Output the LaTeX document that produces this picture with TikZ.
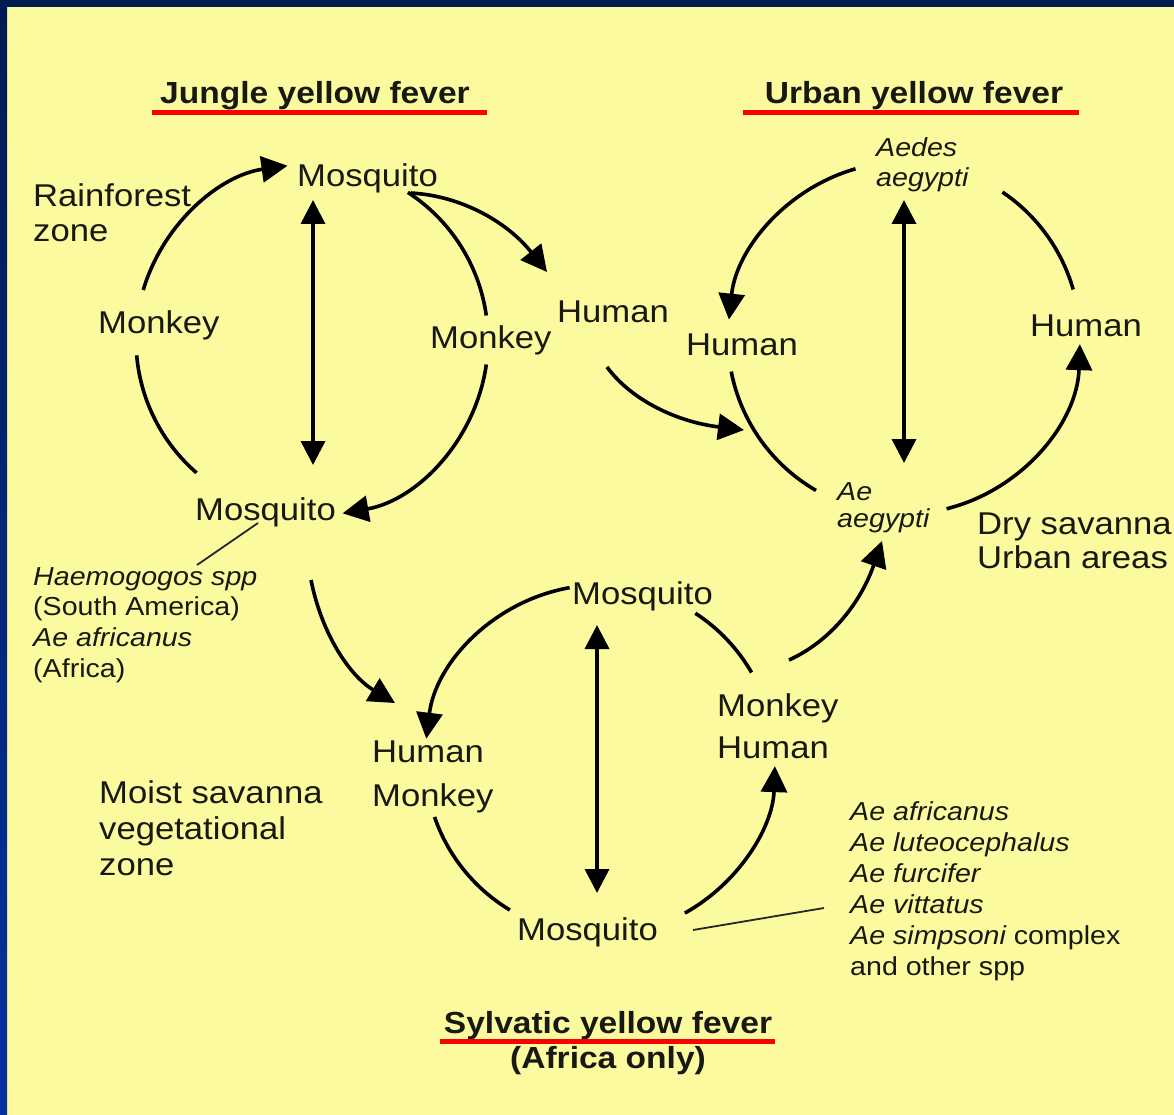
\documentclass[tikz,border=0pt]{standalone}
\usepackage{fontspec}
\setmainfont{Liberation Sans}[FakeStretch=1.1]
\usetikzlibrary{arrows.meta}
\definecolor{bgyellow}{RGB}{252,250,158}
\definecolor{navy}{RGB}{0,27,82}
\definecolor{borderblue}{RGB}{6,50,160}
\definecolor{ink}{RGB}{25,25,20}
\definecolor{redul}{RGB}{250,0,0}
\begin{document}
\begin{tikzpicture}[x=1pt,y=-1pt,
  lbl/.style={inner sep=0pt, anchor=base west, text=ink, font=\fontsize{31.5}{36}\selectfont},
  sml/.style={inner sep=0pt, anchor=base west, text=ink, font=\fontsize{26}{30}\selectfont},
  ttl/.style={inner sep=0pt, anchor=base, text=ink, font=\fontsize{30.5}{36}\selectfont\bfseries},
  cyc/.style={line width=3.6pt, draw=black},
  arr/.style={cyc, -{Triangle[length=26pt,width=26pt]}},
  dbl/.style={cyc, {Triangle[length=24pt,width=24pt]}-{Triangle[length=24pt,width=24pt]}},
  lead/.style={line width=1.8pt, draw=black!85},
  uline/.style={line width=5pt, draw=redul}
]
% background and frame
\fill[bgyellow] (0,0) rectangle (1174,1115);
\useasboundingbox (0,0) rectangle (1174,1115);
\fill[navy] (0,0) rectangle (1174,7);
\shade[top color=navy, bottom color=borderblue] (0,0) rectangle (7,1115);

% titles
\node[ttl] (tJ) at (315,104) {Jungle yellow fever};
\node[ttl] (tU) at (914,104) {Urban yellow fever};
\node[ttl] (tS) at (608,1033) {Sylvatic yellow fever};
\node[ttl] (tA) at (608,1068) {(Africa only)};
\draw[uline] (152,113) -- (487,113);
\draw[uline] (743,113) -- (1079,113);
\draw[uline] (440,1041) -- (775,1041);

% jungle cycle labels
\node[lbl] (jM1) at (297,187) {Mosquito};
\node[lbl] (rf1) at (33,207) {Rainforest};
\node[lbl] (rf2) at (33,242) {zone};
\node[lbl] (jK1) at (98,333) {Monkey};
\node[lbl] (jK2) at (430,348) {Monkey};
\node[lbl] (jM2) at (195,520) {Mosquito};
\node[sml] (hg1) at (33,585) {\itshape Haemogogos spp};
\node[sml] (hg2) at (33,615) {(South America)};
\node[sml] (hg3) at (33,646) {\itshape Ae africanus};
\node[sml] (hg4) at (33,677) {(Africa)};

% middle human
\node[lbl] (hM) at (557,322) {Human};

% urban cycle labels
\node[sml] (ae1) at (876,157) {\itshape Aedes};
\node[sml] (ae2) at (876,187) {\itshape aegypti};
\node[lbl] (uH1) at (686,355) {Human};
\node[lbl] (uH2) at (1030,336) {Human};
\node[sml] (ae3) at (837,500) {\itshape Ae};
\node[sml] (ae4) at (837,527) {\itshape aegypti};
\node[lbl] (ds1) at (977,534) {Dry savanna};
\node[lbl] (ds2) at (977,568) {Urban areas};

% sylvatic cycle labels
\node[lbl] (sM1) at (572,604) {Mosquito};
\node[lbl] (sK1) at (717,716) {Monkey};
\node[lbl] (sH1) at (717,758) {Human};
\node[lbl] (sH2) at (372,762) {Human};
\node[lbl] (sK2) at (372,806) {Monkey};
\node[lbl] (ms1) at (99,803) {Moist savanna};
\node[lbl] (ms2) at (99,839) {vegetational};
\node[lbl] (ms3) at (99,875) {zone};
\node[lbl] (sM2) at (517,940) {Mosquito};
\node[sml] (sp1) at (850,820) {\itshape Ae africanus};
\node[sml] (sp2) at (850,851) {\itshape Ae luteocephalus};
\node[sml] (sp3) at (850,882) {\itshape Ae furcifer};
\node[sml] (sp4) at (850,913) {\itshape Ae vittatus};
\node[sml] (sp5) at (850,944) {{\itshape Ae simpsoni} complex};
\node[sml] (sp6) at (850,975) {and other spp};

% cycle centres and connector ends
\coordinate (jc) at (312,340);
\coordinate (uc) at (904,338);
\coordinate (sc) at (600,760);
\coordinate (jv1) at (313,200);
\coordinate (jv2) at (313,465);
\coordinate (uv1) at (904,200);
\coordinate (uv2) at (904,463);
\coordinate (sv1) at (597,625);
\coordinate (sv2) at (597,893);

% jungle cycle
\draw[arr] ([shift={(196.5:176)}]jc) arc[start angle=196.5, end angle=262, radius=176];
\draw[cyc] ([shift={(131:176)}]jc) arc[start angle=131, end angle=175, radius=176];
\draw[cyc] ([shift={(-57:176)}]jc) arc[start angle=-57, end angle=-8, radius=176];
\draw[arr] ([shift={(8:176)}]jc) arc[start angle=8, end angle=80, radius=176];
\draw[dbl] (jv1) -- (jv2);

% urban cycle
\draw[arr] ([shift={(254:176)}]uc) arc[start angle=254, end angle=186, radius=176];
\draw[cyc] ([shift={(120:176)}]uc) arc[start angle=120, end angle=169, radius=176];
\draw[cyc] ([shift={(-56:176)}]uc) arc[start angle=-56, end angle=-16, radius=176];
\draw[arr] ([shift={(76:176)}]uc) arc[start angle=76, end angle=2, radius=176];
\draw[dbl] (uv1) -- (uv2);

% sylvatic cycle
\draw[arr] ([shift={(260:175)}]sc) arc[start angle=260, end angle=187, radius=175];
\draw[cyc] ([shift={(121:175)}]sc) arc[start angle=121, end angle=161, radius=175];
\draw[cyc] ([shift={(-57:175)}]sc) arc[start angle=-57, end angle=-30, radius=175];
\draw[arr] ([shift={(61:175)}]sc) arc[start angle=61, end angle=2, radius=175];
\draw[dbl] (sv1) -- (sv2);

% links between cycles
\coordinate (a1s) at (411,193); \coordinate (a1e) at (547,272);
\coordinate (a2s) at (607,367); \coordinate (a2e) at (744,430);
\coordinate (a3s) at (311,580); \coordinate (a3e) at (395,703);
\coordinate (a4s) at (789,660); \coordinate (a4e) at (882,541);
\draw[arr] (a1s) .. controls (463,196) and (508,223) .. (a1e);
\draw[arr] (a2s) .. controls (632,401) and (678,422) .. (a2e);
\draw[arr] (a3s) .. controls (322,635) and (350,676) .. (a3e);
\draw[arr] (a4s) .. controls (831,641) and (861,602) .. (a4e);

% leader lines
\coordinate (l1s) at (258,523); \coordinate (l1e) at (197,565);
\coordinate (l2s) at (693,930); \coordinate (l2e) at (824,908);
\draw[lead] (l1s) -- (l1e);
\draw[lead] (l2s) -- (l2e);
\end{tikzpicture}
\end{document}
